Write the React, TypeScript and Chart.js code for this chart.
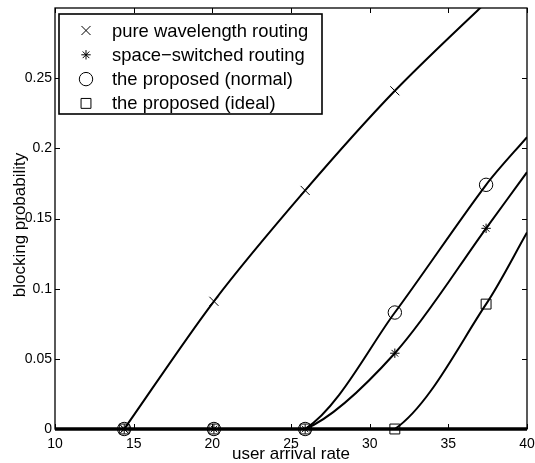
import React, { useEffect, useRef } from "react";
import { Chart, registerables } from "chart.js";

Chart.register(...registerables);

// ---- data ----
const arrivalRate = [14.4, 20.1, 25.9, 31.6, 37.4];
const pureWavelength = [0, 0.091, 0.17, 0.241, 0.304];
const spaceSwitched = [0, 0, 0, 0.054, 0.143];
const proposedNormal = [0, 0, 0, 0.083, 0.174];
const proposedIdeal = [0, 0, 0, 0, 0.089];
// the fitted curves continue to the right edge of the axes
const curveEndRate = 40;
const curveEndValues = [0.33, 0.183, 0.208, 0.14];

const seriesLabels = [
  "pure wavelength routing",
  "space\u2212switched routing",
  "the proposed (normal)",
  "the proposed (ideal)",
];
const seriesValues = [pureWavelength, spaceSwitched, proposedNormal, proposedIdeal];

const xTicks = [10, 15, 20, 25, 30, 35, 40];
const yTicks = [0, 0.05, 0.1, 0.15, 0.2, 0.25];

// ---- styles ----
const FONT = '"Liberation Sans", Arial, Helvetica, sans-serif';
const markerStyles = ["crossRot", "star", "circle", "rect"];
const markerRadii = [6.4, 4.7, 6.7, 7];

function drawMarker(ctx: CanvasRenderingContext2D, style: string, cx: number, cy: number, r: number) {
  ctx.beginPath();
  if (style === "crossRot") {
    const d = r * Math.SQRT1_2;
    ctx.moveTo(cx - d, cy - d);
    ctx.lineTo(cx + d, cy + d);
    ctx.moveTo(cx + d, cy - d);
    ctx.lineTo(cx - d, cy + d);
  } else if (style === "star") {
    const d = r * Math.SQRT1_2;
    ctx.moveTo(cx - r, cy);
    ctx.lineTo(cx + r, cy);
    ctx.moveTo(cx, cy - r);
    ctx.lineTo(cx, cy + r);
    ctx.moveTo(cx - d, cy - d);
    ctx.lineTo(cx + d, cy + d);
    ctx.moveTo(cx + d, cy - d);
    ctx.lineTo(cx - d, cy + d);
  } else if (style === "circle") {
    ctx.arc(cx, cy, r, 0, Math.PI * 2);
  } else {
    const s = r * Math.SQRT1_2;
    ctx.rect(cx - s, cy - s, 2 * s, 2 * s);
  }
  ctx.stroke();
}

const framePlugin = {
  id: "matlabFrame",
  beforeDatasetsDraw(chart: any) {
    const { ctx, scales } = chart;
    const x = scales.x;
    const y = scales.y;
    const y0 = y.getPixelForValue(0);
    ctx.save();
    ctx.strokeStyle = "#000";
    ctx.lineWidth = 3.5;
    ctx.beginPath();
    ctx.moveTo(x.getPixelForValue(xTicks[0]), y0);
    ctx.lineTo(x.getPixelForValue(xTicks[xTicks.length - 1]), y0);
    ctx.stroke();
    ctx.restore();
  },
  afterDraw(chart: any) {
    const { ctx, chartArea: a, scales } = chart;
    const x = scales.x;
    const y = scales.y;
    ctx.save();
    ctx.strokeStyle = "#000";
    // box
    ctx.lineWidth = 1.3;
    ctx.strokeRect(a.left, a.top, a.right - a.left, a.bottom - a.top);
    // inward ticks
    const tl = 5;
    ctx.lineWidth = 1;
    ctx.beginPath();
    xTicks.forEach((v) => {
      const px = Math.round(x.getPixelForValue(v)) + 0.5;
      ctx.moveTo(px, a.bottom);
      ctx.lineTo(px, a.bottom - tl);
      ctx.moveTo(px, a.top);
      ctx.lineTo(px, a.top + tl);
    });
    yTicks.forEach((v) => {
      const py = Math.round(y.getPixelForValue(v)) + 0.5;
      ctx.moveTo(a.left, py);
      ctx.lineTo(a.left + tl, py);
      ctx.moveTo(a.right, py);
      ctx.lineTo(a.right - tl, py);
    });
    ctx.stroke();

    // legend box inside the axes
    const lx = a.left + 4;
    const ly = a.top + 6;
    const lw = 263;
    const lh = 100;
    ctx.fillStyle = "#fff";
    ctx.fillRect(lx, ly, lw, lh);
    ctx.lineWidth = 1.6;
    ctx.strokeRect(lx, ly, lw, lh);
    ctx.fillStyle = "#000";
    ctx.font = `18.4px ${FONT}`;
    ctx.textBaseline = "middle";
    ctx.textAlign = "left";
    seriesLabels.forEach((label, i) => {
      const cy = ly + 16.5 + i * 24.3;
      ctx.lineWidth = 1;
      drawMarker(ctx, markerStyles[i], lx + 27, cy, markerRadii[i]);
      ctx.fillText(label, lx + 53, cy + 1);
    });

    // y axis label (MATLAB places it over the tick labels)
    ctx.save();
    ctx.translate(25, 225);
    ctx.rotate(-Math.PI / 2);
    ctx.textAlign = "center";
    ctx.textBaseline = "alphabetic";
    ctx.font = `17px ${FONT}`;
    ctx.fillText("blocking probability", 0, 0);
    ctx.restore();

    ctx.restore();
  },
};

export default function App() {
  const ref = useRef<HTMLCanvasElement>(null);

  useEffect(() => {
    document.body.style.margin = "0";
    const lineSets = seriesValues.map((vals, i) => ({
      label: seriesLabels[i],
      data: [
        ...arrivalRate.map((r, j) => ({ x: r, y: vals[j] })),
        { x: curveEndRate, y: curveEndValues[i] },
      ],
      showLine: true,
      tension: 0.3,
      borderColor: "#000",
      borderWidth: 2,
      pointRadius: 0,
      fill: false,
      clip: { left: 0, top: 0, right: 0, bottom: 1 },
    }));
    const markerSets = seriesValues.map((vals, i) => ({
      label: seriesLabels[i] + " markers",
      data: arrivalRate.map((r, j) => ({ x: r, y: vals[j] })),
      showLine: false,
      pointStyle: markerStyles[i],
      pointRadius: markerRadii[i],
      pointBorderWidth: 1,
      pointBorderColor: "#000",
      pointBackgroundColor: "rgba(0,0,0,0)",
      clip: { left: 10, top: -1, right: 10, bottom: 12 },
    }));

    const chart = new Chart(ref.current as HTMLCanvasElement, {
      type: "scatter",
      data: { datasets: [...lineSets, ...markerSets] as any },
      options: {
        animation: false,
        responsive: false,
        events: [],
        layout: { padding: { top: 6, right: 8, left: 0, bottom: 0 } },
        plugins: {
          legend: { display: false },
          tooltip: { enabled: false },
        },
        scales: {
          x: {
            type: "linear",
            min: xTicks[0],
            max: xTicks[xTicks.length - 1],
            afterBuildTicks: (s: any) => {
              s.ticks = xTicks.map((v) => ({ value: v }));
            },
            afterFit: (s: any) => {
              s.height = 34;
              s.paddingLeft = 0;
              s.paddingRight = 0;
              s.paddingTop = 0;
              s.paddingBottom = 0;
            },
            grid: { display: false, drawTicks: false },
            border: { display: false },
            ticks: {
              font: { family: FONT, size: 14 },
              color: "#000",
              padding: 7,
              maxRotation: 0,
              autoSkip: false,
              callback: (v: any) => String(v),
            },
            title: {
              display: true,
              text: "user arrival rate",
              font: { family: FONT, size: 17, lineHeight: 1 },
              color: "#000",
              padding: 0,
            },
          },
          y: {
            type: "linear",
            min: 0,
            max: 0.3,
            afterBuildTicks: (s: any) => {
              s.ticks = yTicks.map((v) => ({ value: v }));
            },
            afterFit: (s: any) => {
              s.width = 55;
              s.paddingLeft = 0;
              s.paddingRight = 0;
              s.paddingTop = 0;
              s.paddingBottom = 0;
            },
            grid: { display: false, drawTicks: false },
            border: { display: false },
            ticks: {
              font: { family: FONT, size: 14 },
              color: "#000",
              padding: 3,
              autoSkip: false,
              callback: (v: any) => String(Math.round(Number(v) * 100) / 100),
            },
          },
        },
      } as any,
      plugins: [framePlugin],
    });
    return () => chart.destroy();
  }, []);

  return (
    <canvas
      ref={ref}
      width={535}
      height={463}
      style={{ display: "block", width: 535, height: 463 }}
    />
  );
}
